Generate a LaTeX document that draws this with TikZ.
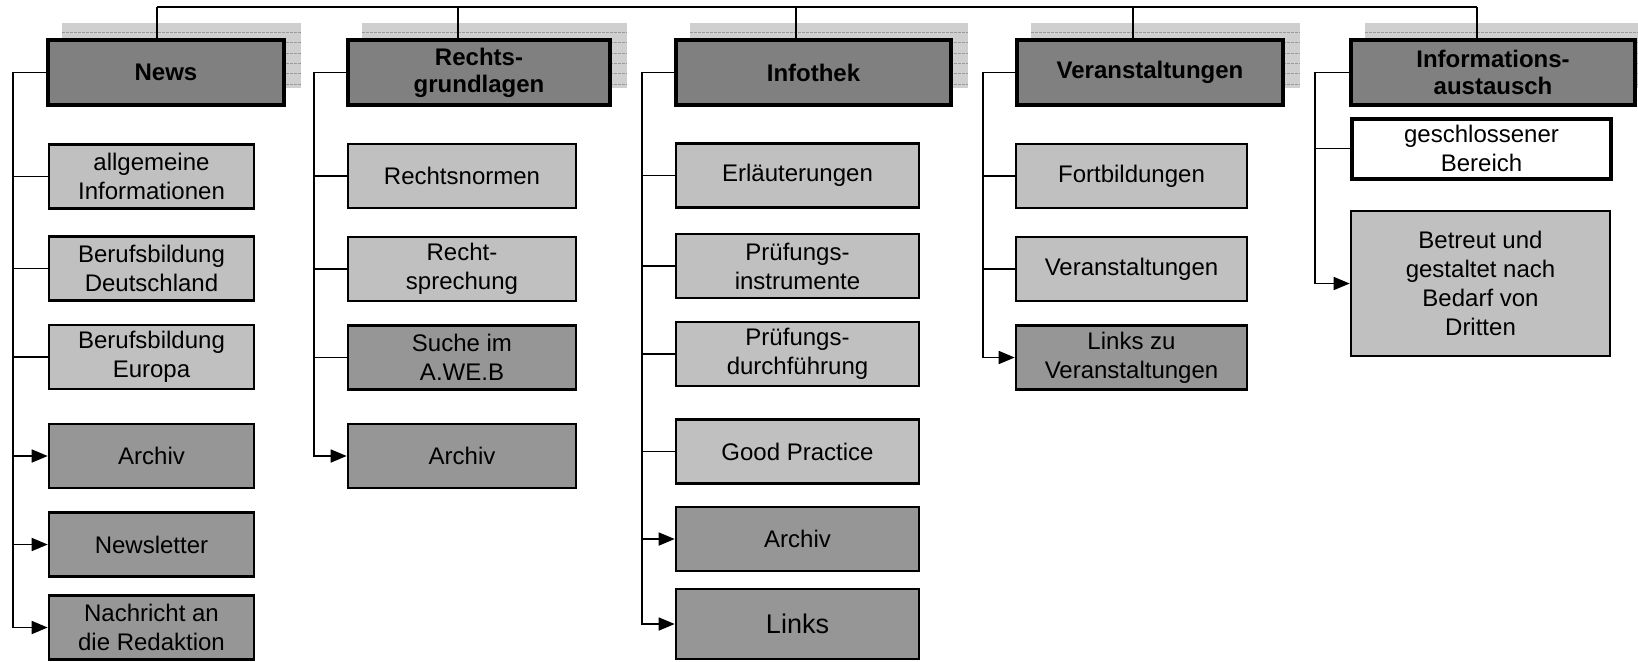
\documentclass[tikz,border=0pt]{standalone}
\usepackage{fontspec}
\setmainfont{Liberation Sans}
\usetikzlibrary{positioning,arrows.meta,backgrounds}
\definecolor{headfill}{HTML}{808080}
\definecolor{itemfill}{HTML}{C0C0C0}
\definecolor{darkfill}{HTML}{969696}
\definecolor{shadefill}{HTML}{CFCFCF}
\definecolor{shadeline}{HTML}{9A9A9A}
\tikzstyle{head} = [draw,line width=2pt,rectangle,fill=headfill,inner sep=0,minimum height=32.5pt,align=center,font=\bfseries\fontsize{12}{13.5}\selectfont]
\tikzstyle{item} = [draw,line width=1.3pt,rectangle,fill=itemfill,inner sep=0,minimum height=32pt,align=center,font=\fontsize{12}{14.5}\selectfont]
\tikzstyle{itemdark} = [item,fill=darkfill]
\tikzstyle{closed} = [item,fill=white,line width=2pt]
\tikzstyle{bus} = [-,line width=1.1pt]
\tikzstyle{link} = [-,line width=0.8pt]
\tikzstyle{linkarrow} = [link,-{Triangle[length=8pt,width=6.5pt]}]
\tikzstyle{shade} = [fill=shadefill]
\tikzstyle{shadestripe} = [shadeline,line width=0.5pt,dash pattern=on 1.5pt off 0.5pt]
\def \wnews {102.5pt}
\def \wrecht {114pt}
\def \winfo {121.5pt}
\def \wveran {115.5pt}

\begin{document}
\begin{tikzpicture}[x=0.5pt,y=-0.5pt]
  \useasboundingbox (0,0) rectangle (1638,661);
  % headers
  \node[head,minimum width=118pt] (news) at (166,72.5) {News};
  \node[head,minimum width=131pt] (recht) at (479,72.5) {Rechts-\\grundlagen};
  \node[head,minimum width=137.5pt] (info) at (813.5,72.5) {Infothek};
  \node[head,minimum width=133pt] (veran) at (1150,72.5) {Veranstaltungen};
  \node[head,minimum width=142pt] (aust) at (1493,72.5) {Informations-\\austausch};
  % shadows behind the headers
  \begin{scope}[on background layer]
    \foreach \h in {news,recht,info,veran,aust} {
      \fill[shade] ([shift={(16,-15)}]\h.north west) rectangle ([shift={(15,-19)}]\h.south east);
      \foreach \k in {-6,4,15,25,35,46}
        \draw[shadestripe] ([shift={(16,\k)}]\h.north west) -- ([shift={(15,\k)}]\h.north east);
    }
  \end{scope}
  % top bus
  \coordinate (tap1) at (157,7);
  \coordinate (tap2) at (458,7);
  \coordinate (tap3) at (796,7);
  \coordinate (tap4) at (1133,7);
  \coordinate (tap5) at (1477,7);
  \draw[bus] (tap1) -- (tap5);
  \foreach \t/\h in {tap1/news,tap2/recht,tap3/info,tap4/veran,tap5/aust}
    \draw[link] (\t) -- (\t |- \h.north);
  % News
  \node[item,minimum width=\wnews] (n1) at (151.5,176.5) {allgemeine\\Informationen};
  \node[item,minimum width=\wnews] (n2) at (151.5,268.5) {Berufsbildung\\Deutschland};
  \node[item,minimum width=\wnews] (n3) at (151.5,357) {Berufsbildung\\Europa};
  \node[itemdark,minimum width=\wnews] (n4) at (151.5,456) {Archiv};
  \node[itemdark,minimum width=\wnews] (n5) at (151.5,544.5) {Newsletter};
  \node[itemdark,minimum width=\wnews] (n6) at (151.5,627.5) {Nachricht an\\die Redaktion};
  % Rechtsgrundlagen
  \node[item,minimum width=\wrecht] (r1) at (462,176) {Rechtsnormen};
  \node[item,minimum width=\wrecht] (r2) at (462,269) {Recht-\\sprechung};
  \node[itemdark,minimum width=\wrecht] (r3) at (462,357.5) {Suche im\\A.WE.B};
  \node[itemdark,minimum width=\wrecht] (r4) at (462,456) {Archiv};
  % Infothek
  \node[item,minimum width=\winfo] (i1) at (797.5,175.5) {Erläuterungen};
  \node[item,minimum width=\winfo] (i2) at (797.5,266) {Prüfungs-\\instrumente};
  \node[item,minimum width=\winfo] (i3) at (797.5,354) {Prüfungs-\\durchführung};
  \node[item,minimum width=\winfo] (i4) at (797.5,451.5) {Good Practice};
  \node[itemdark,minimum width=\winfo] (i5) at (797.5,539) {Archiv};
  \node[itemdark,minimum width=\winfo,minimum height=35pt,font=\fontsize{13.5}{16}\selectfont] (i6) at (797.5,624) {Links};
  % Veranstaltungen
  \node[item,minimum width=\wveran] (v1) at (1131.5,176) {Fortbildungen};
  \node[item,minimum width=\wveran] (v2) at (1131.5,269) {Veranstaltungen};
  \node[itemdark,minimum width=\wveran] (v3) at (1131.5,357.5) {Links zu\\Veranstaltungen};
  % Informationsaustausch
  \node[closed,minimum width=129.5pt,minimum height=30pt] (a1) at (1481.5,148.5) {geschlossener\\Bereich};
  \node[item,minimum width=129.5pt,minimum height=72.5pt] (a2) at (1480.5,283.5) {Betreut und\\gestaltet nach\\Bedarf von\\Dritten};
  % trunks
  \coordinate (tnews) at (13,0);
  \coordinate (trecht) at (314,0);
  \coordinate (tinfo) at (642,0);
  \coordinate (tveran) at (983,0);
  \coordinate (taust) at (1315,0);
  \draw[linkarrow] (news.west) -- (news.west -| tnews) |- (n6.west);
  \draw[linkarrow] (recht.west) -- (recht.west -| trecht) |- (r4.west);
  \draw[linkarrow] (info.west) -- (info.west -| tinfo) |- (i6.west);
  \draw[linkarrow] (veran.west) -- (veran.west -| tveran) |- (v3.west);
  \draw[linkarrow] (aust.west) -- (aust.west -| taust) |- (a2.west);
  % branches
  \foreach \t/\n in {tnews/n1,tnews/n2,tnews/n3,trecht/r1,trecht/r2,trecht/r3,tinfo/i1,tinfo/i2,tinfo/i3,tinfo/i4,tveran/v1,tveran/v2,taust/a1}
    \draw[link] (\t |- \n.west) -- (\n.west);
  \foreach \t/\n in {tnews/n4,tnews/n5,tinfo/i5}
    \draw[linkarrow] (\t |- \n.west) -- (\n.west);
\end{tikzpicture}
\end{document}
